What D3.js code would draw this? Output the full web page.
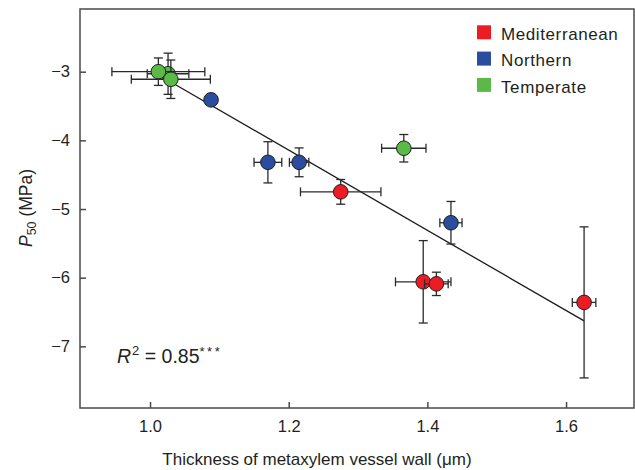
<!DOCTYPE html>
<html>
<head>
<meta charset="utf-8">
<script src="https://cdn.jsdelivr.net/npm/d3@7"></script>
<style>
    body { margin: 0; background: #fff; }
    text { font-family: "Liberation Sans", Arial, sans-serif; fill: #231f20; }
</style>
</head>
<body>
<svg></svg>
<script>
// regions and their colours
const regions = ["Mediterranean", "Northern", "Temperate"]
const regionColors = ["#ec1c24", "#2b4d9e", "#5bb947"]

// one entry per population, in drawing order
const pointRegion = ["Temperate", "Temperate", "Temperate", "Northern", "Northern", "Northern",
    "Mediterranean", "Temperate", "Northern", "Mediterranean", "Mediterranean", "Mediterranean"]
const thickness = [1.026, 1.012, 1.030, 1.088, 1.170, 1.215, 1.275, 1.366, 1.434, 1.394, 1.413, 1.626]
const p50 = [-3.03, -3.00, -3.11, -3.41, -4.32, -4.32, -4.75, -4.115, -5.20, -6.06, -6.09, -6.36]
const thicknessErr = [0.03, 0.067, 0.057, 0, 0.02, 0.014, 0.058, 0.032, 0.016, 0.04, 0.017, 0.017]
const p50Err = [0.3, 0.2, 0.28, 0, 0.3, 0.21, 0.18, 0.2, 0.31, 0.6, 0.17, 1.1]

// regression line end points
const fitX = [1.030, 1.626]
const fitY = [-3.15, -6.63]

const xTicks = [1.0, 1.2, 1.4, 1.6]
const yTicks = [-3, -4, -5, -6, -7]

const svg = d3.select("svg")
    .attr("width", 635)
    .attr("height", 470)

const plotLeft = 80, plotRight = 634, plotTop = 9, plotBottom = 408

const scaleX = d3.scaleLinear()
    .domain([0.899, 1.698])
    .range([plotLeft, plotRight])

const scaleY = d3.scaleLinear()
    .domain([-2.087, -7.898])
    .range([plotTop, plotBottom])

const color = d3.scaleOrdinal()
    .domain(regions)
    .range(regionColors)

// frame
svg.append("rect")
    .attr("x", plotLeft)
    .attr("y", plotTop)
    .attr("width", plotRight - plotLeft)
    .attr("height", plotBottom - plotTop)
    .attr("fill", "none")
    .attr("stroke", "#4a4a4a")
    .attr("stroke-width", 1.5)

// axes, ticks pointing inwards
svg.append("g")
    .attr("transform", `translate(0,${plotBottom})`)
    .call(d3.axisBottom(scaleX).tickValues(xTicks).tickFormat(d3.format(".1f"))
        .tickSizeInner(-6).tickSizeOuter(0).tickPadding(12))

svg.append("g")
    .attr("transform", `translate(${plotLeft},0)`)
    .call(d3.axisLeft(scaleY).tickValues(yTicks).tickFormat(d3.format("d"))
        .tickSizeInner(-6).tickSizeOuter(0).tickPadding(10))

svg.selectAll(".domain").remove()
svg.selectAll(".tick line").attr("stroke", "#4a4a4a").attr("stroke-width", 1.5)
svg.selectAll(".tick text")
    .attr("font-family", "Liberation Sans, Arial, sans-serif")
    .attr("font-size", 16.5)
    .attr("fill", "#231f20")

// axis titles
svg.append("text")
    .attr("x", 317)
    .attr("y", 465)
    .attr("text-anchor", "middle")
    .attr("font-size", 17)
    .text("Thickness of metaxylem vessel wall (μm)")

const yTitle = svg.append("text")
    .attr("transform", "translate(32,208) rotate(-90)")
    .attr("text-anchor", "middle")
    .attr("font-size", 17.5)
yTitle.append("tspan").attr("font-style", "italic").text("P")
yTitle.append("tspan").attr("font-size", 12.5).attr("dy", 4).text("50")
yTitle.append("tspan").attr("dy", -4).text(" (MPa)")

// regression line
svg.append("line")
    .attr("x1", scaleX(fitX[0]))
    .attr("y1", scaleY(fitY[0]))
    .attr("x2", scaleX(fitX[1]))
    .attr("y2", scaleY(fitY[1]))
    .attr("stroke", "#1a1a1a")
    .attr("stroke-width", 1.3)

// points with error bars
const cap = 4.5
const points = svg.selectAll("g.point")
    .data(thickness)
    .enter()
    .append("g")
    .attr("class", "point")

points.each(function(d, i) {
    const g = d3.select(this)
    const cx = scaleX(thickness[i])
    const cy = scaleY(p50[i])
    const bars = []
    if (thicknessErr[i] > 0) {
        const x0 = scaleX(thickness[i] - thicknessErr[i])
        const x1 = scaleX(thickness[i] + thicknessErr[i])
        bars.push([x0, cy, x1, cy], [x0, cy - cap, x0, cy + cap], [x1, cy - cap, x1, cy + cap])
    }
    if (p50Err[i] > 0) {
        const y0 = scaleY(p50[i] + p50Err[i])
        const y1 = scaleY(p50[i] - p50Err[i])
        bars.push([cx, y0, cx, y1], [cx - cap, y0, cx + cap, y0], [cx - cap, y1, cx + cap, y1])
    }
    g.selectAll("line")
        .data(bars)
        .enter()
        .append("line")
        .attr("x1", b => b[0])
        .attr("y1", b => b[1])
        .attr("x2", b => b[2])
        .attr("y2", b => b[3])
        .attr("stroke", "#2a2a2a")
        .attr("stroke-width", 1.3)
    g.append("circle")
        .attr("cx", cx)
        .attr("cy", cy)
        .attr("r", 7.3)
        .attr("fill", color(pointRegion[i]))
        .attr("stroke", "#1f1f1f")
        .attr("stroke-width", 1)
})

// R squared
const r2 = svg.append("text")
    .attr("x", 117)
    .attr("y", 363)
    .attr("font-size", 19.5)
r2.append("tspan").attr("font-style", "italic").text("R")
r2.append("tspan").attr("font-size", 13).attr("dy", -8).attr("dx", 1).text("2")
r2.append("tspan").attr("dy", 8).text(" = 0.85")
r2.append("tspan").attr("font-size", 13).attr("dy", -7)
    .attr("letter-spacing", 2.5).text("***")

// legend
const legend = svg.selectAll("g.legend")
    .data(regions)
    .enter()
    .append("g")
    .attr("class", "legend")
    .attr("transform", (d, i) => `translate(477,${32.3 + i * 26.3})`)

legend.append("rect")
    .attr("x", 0)
    .attr("y", -7)
    .attr("width", 14)
    .attr("height", 14)
    .attr("fill", d => color(d))

legend.append("text")
    .attr("x", 24)
    .attr("y", 7.8)
    .attr("font-size", 17)
    .attr("letter-spacing", 0.6)
    .text(d => d)
</script>
</body>
</html>
